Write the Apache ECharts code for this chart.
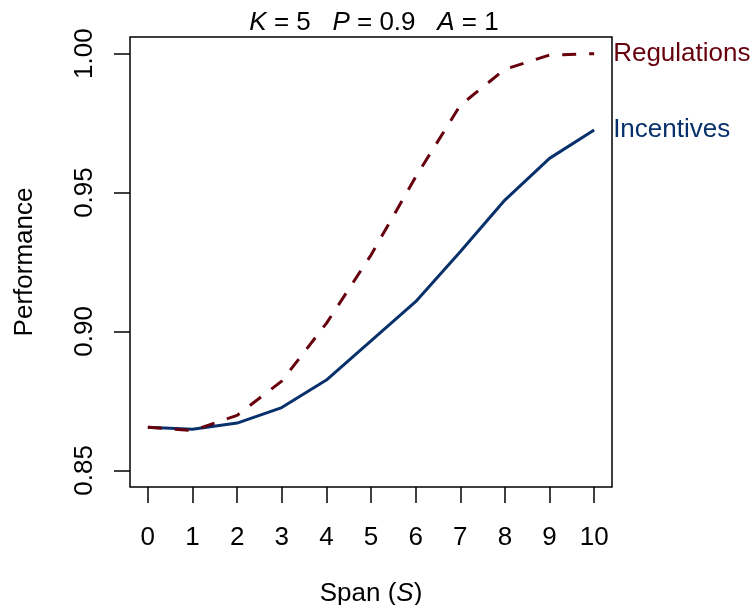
<!DOCTYPE html>
<html>
<head>
<meta charset="utf-8">
<script src="https://cdn.jsdelivr.net/npm/echarts@6/dist/echarts.min.js"></script>
<style>
html,body{margin:0;padding:0;background:#fff;}
#chart{width:751px;height:605px;}
</style>
</head>
<body>
<div id="chart"></div>
<script>
var span = [0, 1, 2, 3, 4, 5, 6, 7, 8, 9, 10];
var incentives = [0.8655, 0.8648, 0.8670, 0.8726, 0.8825, 0.8966, 0.9107, 0.9287, 0.9473, 0.9623, 0.9725];
var regulations = [0.8655, 0.8643, 0.8698, 0.8821, 0.9029, 0.9275, 0.9556, 0.9814, 0.9944, 0.9995, 1.0000];
var xTicks = [0, 1, 2, 3, 4, 5, 6, 7, 8, 9, 10];
var yTicks = [0.85, 0.90, 0.95, 1.00];

var FONT = 'Liberation Sans';
var FS = 26;
function pairs(xs, ys) { return xs.map(function (x, i) { return [x, ys[i]]; }); }

var chart = echarts.init(document.getElementById('chart'), null, { renderer: 'canvas' });
chart.setOption({
  animation: false,
  backgroundColor: '#fff',
  textStyle: { fontFamily: FONT },
  title: {
    text: '{i|K} = 5   {i|P} = 0.9   {i|A} = 1',
    left: 369, top: 5, textAlign: 'center',
    textStyle: {
      fontFamily: FONT, fontSize: FS, fontWeight: 'normal', color: '#000',
      rich: { i: { fontFamily: FONT, fontSize: FS, fontStyle: 'italic', color: '#000' } }
    }
  },
  grid: {
    left: 130, right: 139, top: 37, bottom: 118,
    outerBoundsMode: 'none', containLabel: false,
    show: true, borderColor: '#000', borderWidth: 1.5, backgroundColor: 'transparent'
  },
  xAxis: {
    type: 'value', min: -0.4, max: 10.4,
    name: 'Span ({i|S})', nameLocation: 'middle', nameGap: 94,
    nameTextStyle: {
      fontFamily: FONT, fontSize: FS, color: '#000',
      rich: { i: { fontFamily: FONT, fontSize: FS, fontStyle: 'italic', color: '#000' } }
    },
    axisLine: { show: false, onZero: false },
    splitLine: { show: false },
    axisTick: { show: true, length: 16, customValues: xTicks, lineStyle: { color: '#000', width: 1.5 } },
    axisLabel: { customValues: xTicks, margin: 38, fontSize: FS, color: '#000', fontFamily: FONT }
  },
  yAxis: {
    type: 'value', min: 0.844, max: 1.006,
    name: 'Performance', nameLocation: 'middle', nameGap: 92, nameRotate: 90,
    nameTextStyle: { fontFamily: FONT, fontSize: FS, color: '#000' },
    axisLine: { show: false, onZero: false },
    splitLine: { show: false },
    axisTick: { show: true, length: 16, customValues: yTicks, lineStyle: { color: '#000', width: 1.5 } },
    axisLabel: {
      customValues: yTicks, rotate: 90, margin: 32, fontSize: FS, color: '#000', fontFamily: FONT,
      formatter: function (v) { return v.toFixed(2); }
    }
  },
  series: [
    {
      name: 'Incentives', type: 'line', data: pairs(span, incentives),
      symbol: 'none', smooth: false,
      lineStyle: { color: '#08306B', width: 3 },
      endLabel: { show: true, formatter: '{a}', distance: 19, fontSize: FS, color: '#08306B', fontFamily: FONT }
    },
    {
      name: 'Regulations', type: 'line', data: pairs(span, regulations),
      symbol: 'none', smooth: false,
      lineStyle: { color: '#67000D', width: 3, type: [14, 13] },
      endLabel: { show: true, formatter: '{a}', distance: 19, fontSize: FS, color: '#67000D', fontFamily: FONT }
    }
  ]
});
</script>
</body>
</html>
